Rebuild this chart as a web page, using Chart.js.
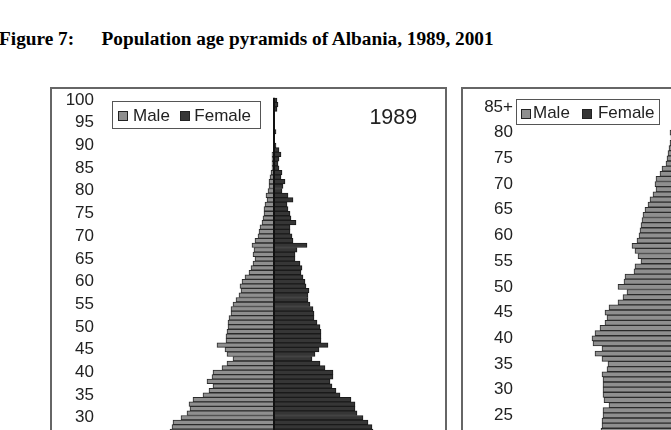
<!DOCTYPE html>
<html>
<head>
<meta charset="utf-8">
<script src="https://cdn.jsdelivr.net/npm/chart.js@4.4.1/dist/chart.umd.min.js"></script>
<style>
html,body{margin:0;padding:0;width:671px;height:430px;overflow:hidden;background:#fff;}
.abs{position:absolute;}
.title{font-family:"Liberation Serif","Times New Roman",serif;font-weight:bold;font-size:19.3px;line-height:20px;white-space:nowrap;color:#000;}
.frame{position:absolute;border:2px solid #666;box-sizing:border-box;}
.legend{position:absolute;border:1px solid #555;box-sizing:border-box;background:#fff;font-family:"Liberation Sans",Arial,sans-serif;font-size:17px;color:#222;}
.sw{position:absolute;width:10px;height:10px;box-sizing:border-box;border:1px solid #222;}
.lt{position:absolute;line-height:20px;white-space:nowrap;}
.year{position:absolute;font-family:"Liberation Sans",Arial,sans-serif;font-size:21.5px;line-height:24px;color:#222;white-space:nowrap;}
</style>
</head>
<body>
<div class="abs title" style="left:-1px;top:28.5px">Figure 7:</div>
<div class="abs title" style="left:101.5px;top:28.5px">Population age pyramids of Albania, 1989, 2001</div>

<div class="frame" style="left:50px;top:87px;width:397px;height:600px"></div>
<div class="frame" style="left:461px;top:87px;width:397px;height:600px"></div>

<canvas id="c1" class="abs" style="left:52px;top:60px" width="394" height="520"></canvas>
<canvas id="c2" class="abs" style="left:471px;top:60px" width="378" height="520"></canvas>

<div class="legend" style="left:112px;top:101px;width:149px;height:28px">
  <div class="sw" style="left:4.7px;top:8.7px;background:#8f8f8f"></div>
  <div class="lt" style="left:20px;top:3.5px">Male</div>
  <div class="sw" style="left:67px;top:8.7px;background:#363636"></div>
  <div class="lt" style="left:81.3px;top:3.5px">Female</div>
</div>
<div class="year" style="left:369.4px;top:105.2px">1989</div>

<div class="legend" style="left:516px;top:99px;width:144px;height:26px">
  <div class="sw" style="left:4px;top:9px;background:#8f8f8f"></div>
  <div class="lt" style="left:16px;top:3.2px">Male</div>
  <div class="sw" style="left:64.7px;top:9px;background:#363636"></div>
  <div class="lt" style="left:80.9px;top:3.2px">Female</div>
</div>
<div class="year" style="left:780px;top:105.2px">2001</div>

<script>
// ---------- 1989 (ages 100 down to 0), thousands ----------
const ages1989 = ['100','99','98','97','96','95','94','93','92','91','90','89','88','87','86','85','84','83','82','81','80','79','78','77','76','75','74','73','72','71','70','69','68','67','66','65','64','63','62','61','60','59','58','57','56','55','54','53','52','51','50','49','48','47','46','45','44','43','42','41','40','39','38','37','36','35','34','33','32','31','30','29','28','27','26','25','24','23','22','21','20','19','18','17','16','15','14','13','12','11','10','9','8','7','6','5','4','3','2','1','0'];
const male1989 = [0.3,0.3,0.3,0.2,0.2,0.2,0.2,0.3,0.2,0.2,0.3,0.3,0.6,0.6,0.6,0.6,0.9,1.2,1.5,1.5,1.8,2.4,2.1,2.7,3.0,3.0,3.3,3.6,4.2,4.5,4.8,5.7,6.6,6.0,6.3,5.7,6.3,6.9,7.5,8.7,9.6,10.2,9.9,10.5,11.4,12.3,12.9,12.9,13.5,13.8,13.8,14.1,14.4,14.4,17.1,14.7,14.1,12.3,14.1,15.6,18.3,18.6,20.1,18.3,19.5,21.3,24.3,25.5,25.2,26.1,27.9,30.3,30.6,31.2,32.7,33.3,34.8,35.4,36.9,37.5,38.1,38.4,39.6,38.9,40.2,40.8,41.1,40.5,41.7,42.3,41.9,42.6,43.2,42.8,43.5,43.9,42.7,43.4,42.1,41.6,40.8];
const female1989 = [0.9,1.2,0.9,0.3,0.3,0.3,0.3,0.6,0.3,0.3,0.6,1.5,2.1,1.5,1.2,1.5,2.4,2.1,3.3,2.7,2.4,4.2,5.7,3.9,4.2,4.8,5.1,6.6,4.8,4.8,5.4,5.7,9.9,6.9,6.3,6.3,7.8,8.4,8.1,8.7,9.3,9.6,10.5,10.2,10.2,10.8,11.7,12.0,12.0,12.9,13.8,14.1,14.1,14.1,16.2,13.5,12.3,11.4,13.8,15.3,17.7,17.7,16.8,17.4,18.6,19.8,23.1,24.3,24.3,24.9,26.7,28.2,29.4,29.7,30.9,31.5,32.7,33.6,34.8,35.1,35.7,36.3,37.2,36.6,37.8,38.4,38.7,38.1,39.3,39.6,39.2,40.1,40.5,40.2,40.9,41.2,40.1,40.7,39.6,39.0,38.4];
const ticks1989 = ['100','95','90','85','80','75','70','65','60','55','50','45','40','35','30','25','20','15','10','5','0'];

// ---------- 2001 (ages 85+ down to 0), thousands ----------
const ages2001 = ['85+','84','83','82','81','80','79','78','77','76','75','74','73','72','71','70','69','68','67','66','65','64','63','62','61','60','59','58','57','56','55','54','53','52','51','50','49','48','47','46','45','44','43','42','41','40','39','38','37','36','35','34','33','32','31','30','29','28','27','26','25','24','23','22','21','20','19','18','17','16','15','14','13','12','11','10','9','8','7','6','5','4','3','2','1','0'];
const male2001 = [3.3,2.1,2.4,2.7,3.6,4.5,4.2,4.5,4.8,5.1,5.4,5.7,6.9,7.5,8.7,9.0,8.7,9.6,10.5,11.1,12.0,12.6,12.9,13.2,13.5,13.8,14.4,15.9,15.0,14.1,13.2,15.0,15.3,18.0,18.3,20.1,17.4,18.6,20.1,22.8,24.0,23.4,24.0,25.5,27.0,27.9,27.6,24.9,27.0,24.9,23.1,23.4,24.9,24.6,24.6,24.6,24.6,24.3,22.8,24.6,24.6,24.9,24.9,25.2,25.8,26.7,27.3,28.8,29.1,30.9,31.2,32.4,32.7,33.3,32.1,31.9,30.6,30.0,28.8,28.5,26.7,25.4,24.9,23.4,23.2,22.0];
const female2001 = [6.3,3.6,4.2,4.5,5.1,5.7,5.4,6.0,6.3,6.9,7.2,7.5,8.4,8.7,9.9,10.2,9.6,10.5,11.1,11.7,12.3,12.6,12.9,13.5,13.2,13.8,14.1,15.3,14.4,13.8,13.5,14.7,15.0,17.4,17.7,19.5,17.1,18.3,19.8,22.2,23.4,23.1,23.7,25.2,26.4,27.3,27.0,25.5,26.7,25.8,24.9,25.2,26.1,26.4,26.7,27.0,27.3,27.6,26.4,27.9,28.2,28.8,29.1,29.4,29.7,30.3,30.9,31.8,32.4,33.0,33.3,33.6,33.9,33.0,32.1,31.5,30.3,29.4,27.9,27.0,25.8,24.3,23.4,22.2,21.6,20.7];
const ticks2001 = ['85+','80','75','70','65','60','55','50','45','40','35','30','25','20','15','10','5','0'];

const MALE_FILL = '#8f8f8f', MALE_BORDER = '#2b2b2b';
const FEMALE_FILL = '#363636', FEMALE_BORDER = '#1a1a1a';

function makeChart(id, labels, male, female, tickLabels, range, pad) {
  return new Chart(document.getElementById(id), {
    type: 'bar',
    data: {
      labels: labels,
      datasets: [
        { label: 'Male', data: male.map(v => -v), backgroundColor: MALE_FILL, borderColor: MALE_BORDER, borderWidth: 1 },
        { label: 'Female', data: female, backgroundColor: FEMALE_FILL, borderColor: FEMALE_BORDER, borderWidth: 1 }
      ]
    },
    options: {
      indexAxis: 'y',
      responsive: false,
      animation: false,
      devicePixelRatio: 1,
      layout: { padding: pad },
      datasets: { bar: { barPercentage: 1, categoryPercentage: 1 } },
      plugins: { legend: { display: false }, tooltip: { enabled: false } },
      scales: {
        x: {
          stacked: true,
          min: -range, max: range,
          ticks: { display: false, stepSize: 10 },
          border: { display: false },
          grid: {
            drawTicks: false,
            z: 1,
            lineWidth: 2,
            color: ctx => (ctx.tick && ctx.tick.value === 0) ? '#111' : 'rgba(0,0,0,0)'
          }
        },
        y: {
          stacked: true,
          border: { display: false },
          grid: { display: false, drawTicks: false },
          afterFit: s => { s.width = 50; },
          ticks: {
            autoSkip: false,
            padding: 8,
            color: '#222',
            font: { family: 'Liberation Sans', size: 17 },
            callback: function (value, index) {
              const lab = labels[index];
              return tickLabels.includes(lab) ? lab : '';
            }
          }
        }
      }
    }
  });
}

makeChart('c1', ages1989, male1989, female1989, ticks1989, 51.6,
  { top: 37.73, bottom: 23.8, left: 0, right: 0 });
makeChart('c2', ages2001, male2001, female2001, ticks2001, 49.2,
  { top: 44.43, bottom: 33.53, left: 0, right: 0 });
</script>
</body>
</html>
